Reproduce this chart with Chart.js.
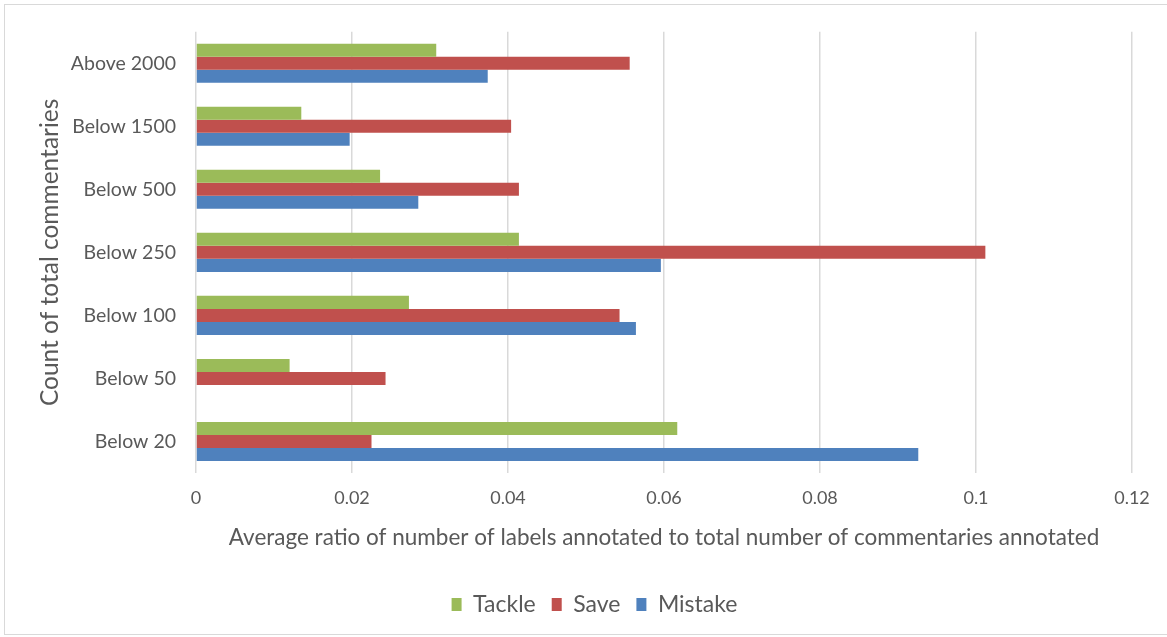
<!DOCTYPE html>
<html>
<head>
<meta charset="utf-8">
<script src="https://cdn.jsdelivr.net/npm/chart.js@4"></script>
<style>
  html, body { margin: 0; padding: 0; background: #fff; overflow: hidden; }
  #frame { position: absolute; left: 4px; top: 4px; width: 1170px; height: 631px; border: 1px solid #d9d9d9; box-sizing: border-box; }
  #chart { position: absolute; left: 0; top: 0; }
</style>
</head>
<body>
<div id="frame"></div>
<canvas id="chart" width="1167" height="637"></canvas>
<script>
// groups, listed top to bottom
const categories = ['Above 2000', 'Below 1500', 'Below 500', 'Below 250', 'Below 100', 'Below 50', 'Below 20'];

const tackle  = [0.0308, 0.0135, 0.0236, 0.0414, 0.0273, 0.0120, 0.0617];
const save    = [0.0556, 0.0404, 0.0414, 0.1012, 0.0543, 0.0243, 0.0225];
const mistake = [0.0374, 0.0197, 0.0285, 0.0596, 0.0564, null, 0.0926];

const xTicks = [0, 0.02, 0.04, 0.06, 0.08, 0.1, 0.12];

const textColor = '#595959';
const fontFamily = 'Lato, "Open Sans", sans-serif';

const ctx = document.getElementById('chart').getContext('2d');

new Chart(ctx, {
    type: 'bar',
    data: {
        labels: categories,
        datasets: [
            { label: 'Tackle', data: tackle, backgroundColor: '#9BBB59' },
            { label: 'Save', data: save, backgroundColor: '#C0504D' },
            { label: 'Mistake', data: mistake, backgroundColor: '#4F81BD' }
        ]
    },
    options: {
        indexAxis: 'y',
        responsive: false,
        animation: false,
        devicePixelRatio: 1,
        // left padding keeps the legend centred under the plot, axis title pulled back with negative padding
        layout: { padding: { top: 30, right: 35, left: 57, bottom: 11 } },
        datasets: {
            bar: { categoryPercentage: 0.62, barPercentage: 1.0, borderWidth: 0 }
        },
        scales: {
            x: {
                min: xTicks[0],
                max: xTicks[xTicks.length - 1],
                afterBuildTicks: (scale) => { scale.ticks = xTicks.map(v => ({ value: v })); },
                afterFit: (scale) => { scale.height = 104; },
                grid: { color: '#d9d9d9', lineWidth: 1.5, drawTicks: false },
                border: { display: false },
                ticks: {
                    padding: 14,
                    color: textColor,
                    font: { family: fontFamily, size: 18 },
                    callback: (v) => String(+v.toFixed(2))
                },
                title: {
                    display: true,
                    text: 'Average ratio of number of labels annotated to total number of commentaries annotated',
                    color: textColor,
                    font: { family: fontFamily, size: 22.5 },
                    padding: { top: 4, bottom: 25.5 }
                }
            },
            y: {
                afterFit: (scale) => { scale.width = 139; },
                grid: { display: false, drawTicks: false },
                border: { display: false },
                ticks: {
                    padding: 20,
                    color: textColor,
                    font: { family: fontFamily, size: 19.5 }
                },
                title: {
                    display: true,
                    text: 'Count of total commentaries',
                    color: textColor,
                    font: { family: fontFamily, size: 24.5 },
                    padding: { top: -21.7, bottom: 0 }
                }
            }
        },
        plugins: {
            legend: {
                position: 'bottom',
                labels: {
                    boxWidth: 10,
                    boxHeight: 13,
                    padding: 16,
                    color: textColor,
                    font: { family: fontFamily, size: 23 }
                }
            },
            tooltip: { enabled: false }
        }
    }
});
</script>
</body>
</html>
